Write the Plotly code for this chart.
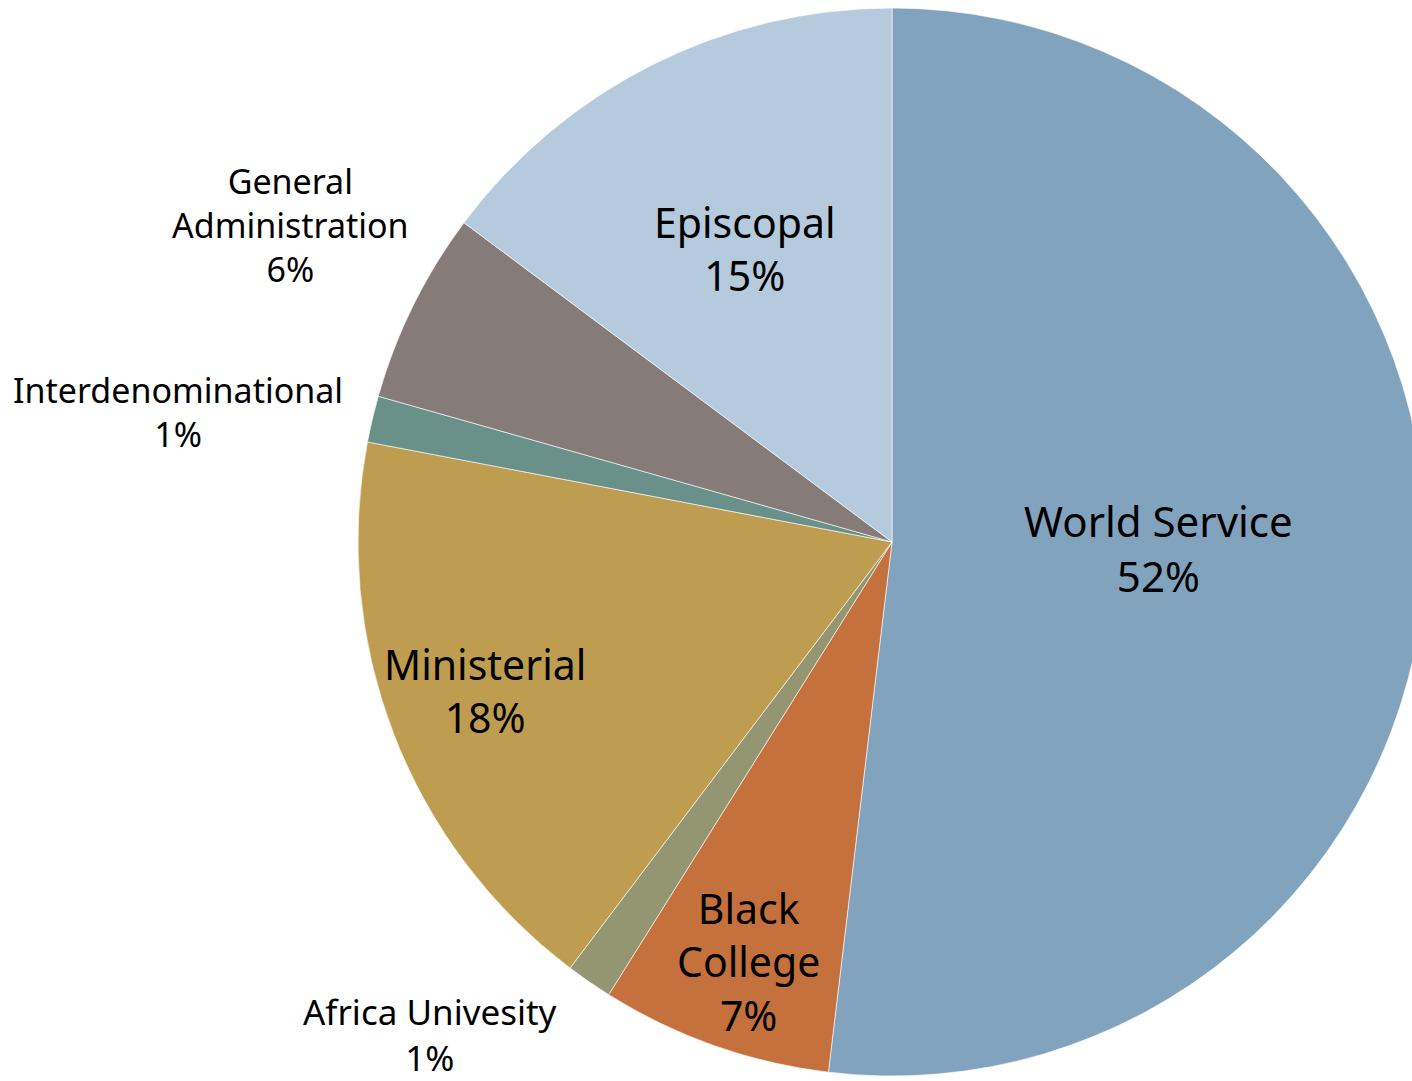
import plotly.graph_objects as go

labels = ["World Service", "Black College", "Africa Univesity", "Ministerial",
          "Interdenominational", "General Administration", "Episcopal"]
display = ["World Service", "Black<br>College", "Africa Univesity", "Ministerial",
           "Interdenominational", "General<br>Administration", "Episcopal"]
values = [51.9, 7.0, 1.4, 17.7, 1.4, 5.8, 14.8]
colors = ["#82A3BD", "#C5713E", "#939671", "#BF9D50", "#6A9189", "#857B78", "#B5CBDD"]

W, H = 1426, 1081
CX, CY, R = 892, 542, 534

fig = go.Figure(go.Pie(
    labels=labels,
    values=values,
    sort=False,
    direction="clockwise",
    rotation=0,
    marker=dict(colors=colors, line=dict(color="rgba(255,255,255,0.6)", width=1)),
    textinfo="none",
    hoverinfo="label+percent",
    showlegend=False,
    domain=dict(x=[(CX - R) / W, 1.0], y=[1 - (CY + R) / H, 1 - (CY - R) / H]),
))

# label anchor positions (pixel centres of each text block)
label_pos = [(1158, 548), (748, 961), (430, 1034), (485, 690),
             (178, 412), (290, 225), (745, 248)]
label_size = [42, 41, 35, 41, 34, 34, 41]

total = sum(values)
for name, v, (px, py), fs in zip(display, values, label_pos, label_size):
    pct = round(100 * v / total)
    fig.add_annotation(
        x=px / W, y=1 - py / H, xref="paper", yref="paper",
        text=f"{name}<br>{pct}%", showarrow=False,
        xanchor="center", yanchor="middle", align="center",
        font=dict(family="Noto Sans", size=fs, color="#000000"),
    )

fig.update_layout(
    width=W, height=H,
    margin=dict(l=0, r=0, t=0, b=0),
    paper_bgcolor="white", plot_bgcolor="white",
)

fig.write_html(
    "out.html",
    config={"displayModeBar": False},
    post_script="document.body.style.margin='0';document.body.style.overflow='hidden';"
                "document.documentElement.style.overflow='hidden';",
)
